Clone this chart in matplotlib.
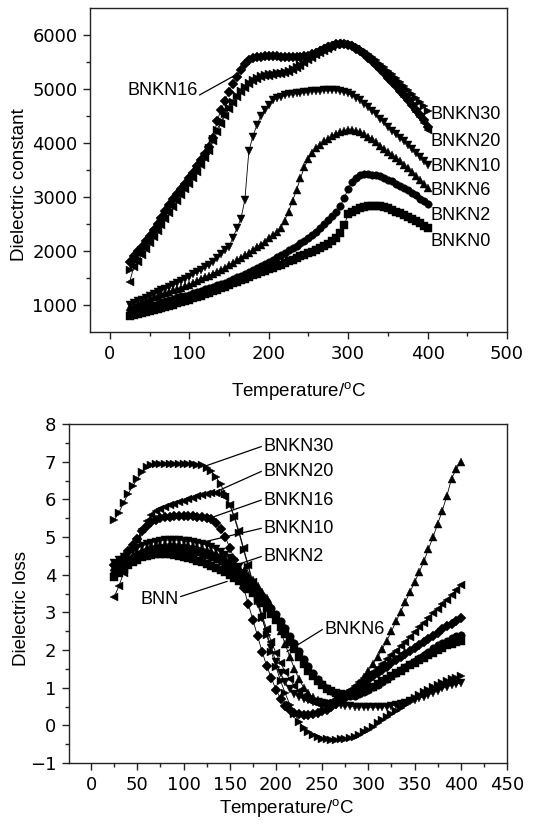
import matplotlib
matplotlib.use("Agg")
import matplotlib.pyplot as plt
import numpy as np

plt.rcParams['font.family'] = ['Liberation Sans', 'DejaVu Sans']
plt.rcParams['mathtext.default'] = 'regular'

temps = list(range(25, 401, 5))

# ---------------- Dielectric constant ----------------
eps_BNKN0 = [800, 815, 830, 850, 865, 885, 905, 925,
             945, 965, 985, 1005, 1030, 1055, 1075, 1100,
             1125, 1150, 1175, 1200, 1225, 1255, 1285, 1310,
             1340, 1370, 1400, 1430, 1460, 1490, 1520, 1550,
             1580, 1605, 1635, 1660, 1690, 1720, 1750, 1780,
             1810, 1840, 1870, 1900, 1930, 1960, 1990, 2020,
             2050, 2090, 2130, 2180, 2250, 2340, 2480, 2680,
             2720, 2760, 2790, 2810, 2830, 2840, 2840, 2830,
             2810, 2790, 2760, 2730, 2700, 2670, 2630, 2590,
             2550, 2510, 2470, 2430]
eps_BNKN2 = [860, 880, 900, 925, 950, 975, 1000, 1025,
             1050, 1075, 1100, 1120, 1140, 1160, 1175, 1190,
             1215, 1240, 1265, 1290, 1315, 1340, 1365, 1390,
             1410, 1440, 1475, 1510, 1545, 1580, 1615, 1650,
             1690, 1730, 1765, 1800, 1840, 1880, 1920, 1960,
             2010, 2060, 2100, 2150, 2190, 2240, 2300, 2360,
             2430, 2500, 2570, 2650, 2730, 2830, 2980, 3150,
             3280, 3360, 3400, 3420, 3420, 3415, 3400, 3380,
             3350, 3320, 3290, 3250, 3210, 3170, 3130, 3080,
             3030, 2970, 2920, 2865]
eps_BNKN6 = [960, 990, 1020, 1050, 1080, 1110, 1140, 1170,
             1195, 1220, 1245, 1270, 1295, 1320, 1345, 1370,
             1405, 1440, 1475, 1510, 1545, 1580, 1615, 1650,
             1690, 1740, 1785, 1830, 1875, 1920, 1965, 2020,
             2070, 2120, 2175, 2235, 2290, 2350, 2430, 2560,
             2730, 2930, 3130, 3350, 3560, 3700, 3810, 3900,
             3970, 4030, 4080, 4130, 4170, 4200, 4225, 4240,
             4240, 4225, 4200, 4160, 4120, 4070, 4010, 3950,
             3895, 3840, 3780, 3720, 3660, 3600, 3535, 3460,
             3390, 3320, 3240, 3160]
eps_BNKN10 = [1000, 1030, 1065, 1100, 1135, 1170, 1200, 1235,
              1270, 1305, 1340, 1375, 1410, 1450, 1490, 1525,
              1565, 1610, 1650, 1695, 1740, 1800, 1870, 1950,
              2010, 2080, 2250, 2420, 2600, 2950, 3850, 4120,
              4330, 4500, 4620, 4710, 4790, 4830, 4860, 4880,
              4900, 4910, 4920, 4930, 4940, 4950, 4960, 4965,
              4970, 4975, 4980, 4980, 4975, 4960, 4945, 4920,
              4880, 4840, 4790, 4730, 4670, 4600, 4530, 4450,
              4380, 4300, 4230, 4160, 4100, 4030, 3960, 3890,
              3810, 3740, 3660, 3590]
eps_BNKN16 = [1800, 1900, 2000, 2080, 2180, 2280, 2380, 2500,
              2620, 2750, 2860, 2960, 3060, 3150, 3250, 3350,
              3450, 3570, 3680, 3800, 3920, 4100, 4400, 4620,
              4780, 4950, 5100, 5230, 5360, 5460, 5530, 5570,
              5590, 5600, 5605, 5610, 5610, 5605, 5600, 5595,
              5590, 5590, 5595, 5600, 5610, 5620, 5640, 5670,
              5700, 5740, 5770, 5800, 5830, 5840, 5840, 5820,
              5790, 5750, 5700, 5640, 5580, 5510, 5440, 5370,
              5290, 5210, 5130, 5050, 4970, 4890, 4800, 4710,
              4620, 4520, 4420, 4300]
eps_BNKN20 = [1430, 1700, 1800, 1920, 2040, 2150, 2260, 2370,
              2480, 2590, 2700, 2810, 2920, 3030, 3140, 3250,
              3360, 3470, 3590, 3720, 3860, 4030, 4200, 4360,
              4500, 4630, 4740, 4850, 4940, 5020, 5090, 5150,
              5190, 5220, 5240, 5250, 5260, 5270, 5280, 5300,
              5320, 5350, 5390, 5430, 5480, 5530, 5580, 5630,
              5670, 5710, 5750, 5780, 5810, 5830, 5830, 5810,
              5780, 5740, 5690, 5630, 5570, 5500, 5430, 5350,
              5270, 5190, 5110, 5030, 4950, 4860, 4770, 4680,
              4580, 4480, 4370, 4240]
eps_BNKN30 = [1650, 1750, 1850, 1980, 2100, 2200, 2320, 2430,
              2550, 2650, 2760, 2870, 2970, 3080, 3180, 3280,
              3390, 3500, 3620, 3760, 3900, 4080, 4250, 4400,
              4530, 4650, 4760, 4870, 4960, 5040, 5110, 5170,
              5210, 5240, 5260, 5270, 5280, 5290, 5300, 5320,
              5340, 5370, 5400, 5440, 5480, 5530, 5580, 5630,
              5680, 5720, 5760, 5790, 5820, 5840, 5850, 5840,
              5820, 5790, 5750, 5700, 5650, 5590, 5530, 5470,
              5410, 5340, 5270, 5200, 5130, 5060, 4990, 4910,
              4840, 4760, 4680, 4600]

# ---------------- Dielectric loss ----------------
loss_BNN = [3.95, 4.05, 4.15, 4.25, 4.33, 4.40, 4.46, 4.50,
            4.53, 4.55, 4.55, 4.55, 4.54, 4.52, 4.50, 4.47,
            4.44, 4.41, 4.37, 4.33, 4.29, 4.24, 4.19, 4.13,
            4.06, 3.98, 3.90, 3.82, 3.73, 3.63, 3.52, 3.40,
            3.26, 3.12, 2.96, 2.80, 2.62, 2.42, 2.22, 2.02,
            1.82, 1.63, 1.45, 1.30, 1.17, 1.06, 0.97, 0.90,
            0.85, 0.82, 0.80, 0.80, 0.82, 0.86, 0.91, 0.97,
            1.03, 1.10, 1.17, 1.24, 1.31, 1.38, 1.45, 1.52,
            1.59, 1.66, 1.73, 1.80, 1.87, 1.93, 2.00, 2.06,
            2.12, 2.17, 2.21, 2.25]
loss_BNKN2 = [4.05, 4.15, 4.25, 4.35, 4.44, 4.51, 4.57, 4.62,
              4.65, 4.68, 4.70, 4.71, 4.71, 4.70, 4.69, 4.67,
              4.65, 4.62, 4.59, 4.55, 4.51, 4.46, 4.41, 4.35,
              4.28, 4.20, 4.12, 4.03, 3.93, 3.82, 3.70, 3.57,
              3.43, 3.28, 3.12, 2.95, 2.77, 2.58, 2.38, 2.18,
              1.97, 1.77, 1.58, 1.40, 1.24, 1.10, 0.99, 0.90,
              0.83, 0.79, 0.77, 0.77, 0.79, 0.83, 0.88, 0.94,
              1.01, 1.08, 1.16, 1.24, 1.32, 1.40, 1.48, 1.56,
              1.64, 1.72, 1.80, 1.88, 1.96, 2.04, 2.12, 2.19,
              2.25, 2.31, 2.36, 2.40]
loss_BNKN6 = [4.20, 4.28, 4.36, 4.45, 4.53, 4.60, 4.66, 4.71,
              4.75, 4.78, 4.80, 4.81, 4.82, 4.82, 4.81, 4.80,
              4.78, 4.76, 4.73, 4.70, 4.66, 4.62, 4.57, 4.51,
              4.45, 4.38, 4.30, 4.21, 4.10, 3.98, 3.85, 3.70,
              3.54, 3.38, 3.18, 2.85, 2.50, 2.15, 1.82, 1.50,
              1.22, 1.00, 0.86, 0.74, 0.66, 0.61, 0.59, 0.60,
              0.64, 0.70, 0.78, 0.88, 1.00, 1.13, 1.28, 1.45,
              1.63, 1.82, 2.03, 2.25, 2.50, 2.76, 3.02, 3.28,
              3.54, 3.80, 4.07, 4.35, 4.68, 5.00, 5.35, 5.70,
              6.10, 6.55, 6.80, 7.00]
loss_BNKN10 = [4.30, 4.38, 4.46, 4.55, 4.63, 4.70, 4.76, 4.81,
               4.85, 4.88, 4.90, 4.91, 4.92, 4.92, 4.91, 4.90,
               4.89, 4.87, 4.85, 4.82, 4.78, 4.73, 4.67, 4.60,
               4.52, 4.43, 4.33, 4.20, 4.03, 3.82, 3.55, 3.22,
               2.85, 2.45, 2.05, 1.68, 1.38, 1.14, 0.96, 0.84,
               0.76, 0.70, 0.66, 0.63, 0.61, 0.59, 0.57, 0.55,
               0.54, 0.53, 0.52, 0.51, 0.50, 0.49, 0.48, 0.48,
               0.48, 0.48, 0.49, 0.50, 0.52, 0.54, 0.57, 0.60,
               0.64, 0.68, 0.72, 0.76, 0.81, 0.86, 0.92, 0.98,
               1.03, 1.07, 1.10, 1.12]
loss_BNKN16 = [4.25, 4.35, 4.48, 4.62, 4.78, 4.95, 5.15, 5.30,
               5.40, 5.46, 5.50, 5.53, 5.54, 5.55, 5.55, 5.55,
               5.55, 5.55, 5.54, 5.53, 5.51, 5.47, 5.38, 5.22,
               5.00, 4.72, 4.40, 4.05, 3.65, 3.22, 2.80, 2.38,
               1.95, 1.58, 1.25, 0.95, 0.70, 0.52, 0.40, 0.33,
               0.30, 0.28, 0.28, 0.29, 0.32, 0.37, 0.42, 0.49,
               0.57, 0.65, 0.73, 0.82, 0.91, 1.01, 1.11, 1.21,
               1.30, 1.39, 1.48, 1.56, 1.65, 1.73, 1.81, 1.89,
               1.97, 2.05, 2.13, 2.21, 2.29, 2.38, 2.46, 2.55,
               2.63, 2.70, 2.78, 2.85]
loss_BNKN20 = [3.42, 3.69, 4.05, 4.40, 4.70, 4.95, 5.20, 5.42,
               5.58, 5.68, 5.75, 5.80, 5.84, 5.88, 5.92, 5.96,
               6.00, 6.04, 6.08, 6.12, 6.15, 6.17, 6.18, 6.15,
               6.05, 5.85, 5.55, 5.15, 4.70, 4.25, 3.80, 3.35,
               2.92, 2.55, 2.22, 1.92, 1.65, 1.42, 1.22, 1.05,
               0.90, 0.78, 0.68, 0.61, 0.57, 0.56, 0.58, 0.63,
               0.70, 0.78, 0.87, 0.95, 1.05, 1.15, 1.25, 1.33,
               1.42, 1.52, 1.62, 1.75, 1.87, 1.98, 2.10, 2.22,
               2.35, 2.47, 2.60, 2.72, 2.85, 2.97, 3.10, 3.22,
               3.34, 3.46, 3.60, 3.73]
loss_BNKN30 = [5.45, 5.65, 5.90, 6.15, 6.35, 6.55, 6.72, 6.85,
               6.91, 6.93, 6.94, 6.94, 6.93, 6.93, 6.93, 6.93,
               6.93, 6.93, 6.92, 6.90, 6.84, 6.75, 6.60, 6.40,
               6.15, 5.85, 5.50, 5.10, 4.65, 4.20, 3.75, 3.30,
               2.85, 2.40, 1.95, 1.55, 1.18, 0.85, 0.55, 0.30,
               0.10, -0.06, -0.18, -0.26, -0.32, -0.35, -0.37, -0.38,
               -0.38, -0.37, -0.35, -0.33, -0.30, -0.25, -0.19, -0.12,
               -0.04, 0.05, 0.15, 0.22, 0.30, 0.38, 0.46, 0.55,
               0.63, 0.72, 0.80, 0.88, 0.95, 1.02, 1.08, 1.13,
               1.18, 1.22, 1.26, 1.30]

markers = ['s', 'o', '^', 'v', 'D', '<', '>']
eps_series = [eps_BNKN0, eps_BNKN2, eps_BNKN6, eps_BNKN10, eps_BNKN16, eps_BNKN20, eps_BNKN30]
loss_series = [loss_BNN, loss_BNKN2, loss_BNKN6, loss_BNKN10, loss_BNKN16, loss_BNKN20, loss_BNKN30]

W, H = 547, 835
fig = plt.figure(figsize=(W / 100, H / 100), dpi=100)

def px_axes(l, t, r, b):
    return fig.add_axes([l / W, 1 - b / H, (r - l) / W, (b - t) / H])

ax1 = px_axes(90, 8, 507, 332)
ax2 = px_axes(69, 424, 507, 763)

FS = 13
TICKFONT = {'family': ['DejaVu Sans'], 'size': 13}
for ax, series in ((ax1, eps_series), (ax2, loss_series)):
    for m, vals in zip(markers, series):
        ms = 5.4 if m in ('s', 'o') else 6.2
        if m == 'D':
            ms = 5.0
        ax.plot(temps, vals, color='black', lw=0.6, marker=m, ms=ms,
                markerfacecolor='black', markeredgecolor='black', markeredgewidth=0.3)
    for s in ax.spines.values():
        s.set_linewidth(1.0)
        s.set_color('#222222')
    ax.tick_params(axis='both', which='both', direction='out', color='#222222')
    ax.tick_params(which='major', length=5, width=1, pad=4)
    ax.tick_params(which='minor', length=3, width=1)

# top axes
ax1.set_xlim(-25, 500)
ax1.set_ylim(500, 6500)
ax1.set_xticks([0, 100, 200, 300, 400, 500])
ax1.set_xticks(range(50, 500, 100), minor=True)
ax1.set_yticks([1000, 2000, 3000, 4000, 5000, 6000])
ax1.set_yticks([1500, 2500, 3500, 4500, 5500], minor=True)
ax1.set_ylabel('Dielectric constant', fontsize=FS + 0.5)
ax1.set_xlabel(r'Temperature/$^{o}$C', fontsize=FS + 0.5)
ax1.yaxis.set_label_coords(-0.149, 0.455)
ax1.xaxis.set_label_coords(0.5, -0.148)

right_labels = [('BNKN30', 4520), ('BNKN20', 4030), ('BNKN10', 3560),
                ('BNKN6', 3120), ('BNKN2', 2655), ('BNKN0', 2175)]
for name, yv in right_labels:
    ax1.text(404, yv, name, fontsize=FS, ha='left', va='center')
ax1.text(111, 4981, 'BNKN16', fontsize=FS, ha='right', va='center')
ax1.plot([113, 162], [4890, 5290], color='black', lw=0.9)

# bottom axes
ax2.set_xlim(-24, 450)
ax2.set_ylim(-1, 8)
ax2.set_xticks(range(0, 451, 50))
ax2.set_xticks(range(25, 450, 50), minor=True)
ax2.set_yticks(range(-1, 9))
ax2.set_yticks(np.arange(-0.5, 8, 1.0), minor=True)
ax2.set_ylabel('Dielectric loss', fontsize=FS + 0.5)
ax2.set_xlabel(r'Temperature/$^{o}$C', fontsize=FS + 0.5)
ax2.yaxis.set_label_coords(-0.089, 0.457)
ax2.xaxis.set_label_coords(0.498, -0.100)

for ax in (ax1, ax2):
    for lab in ax.get_xticklabels() + ax.get_yticklabels():
        lab.set_fontfamily(TICKFONT['family'])
        lab.set_fontsize(TICKFONT['size'])

loss_labels = [('BNKN30', 7.40, 122, 6.87), ('BNKN20', 6.74, 135, 6.20),
               ('BNKN16', 5.98, 133, 5.54), ('BNKN10', 5.23, 124, 4.88),
               ('BNKN2', 4.48, 162, 4.30)]
for name, yv, tx, ty in loss_labels:
    ax2.text(187, yv, name, fontsize=FS, ha='left', va='center')
    ax2.plot([184, tx], [yv, ty], color='black', lw=0.9)
ax2.text(95, 3.35, 'BNN', fontsize=FS, ha='right', va='center')
ax2.plot([97, 147], [3.42, 3.82], color='black', lw=0.9)
ax2.text(252, 2.55, 'BNKN6', fontsize=FS, ha='left', va='center')
ax2.plot([250, 212], [2.54, 1.96], color='black', lw=0.9)

fig.savefig('out.png', dpi=100)
